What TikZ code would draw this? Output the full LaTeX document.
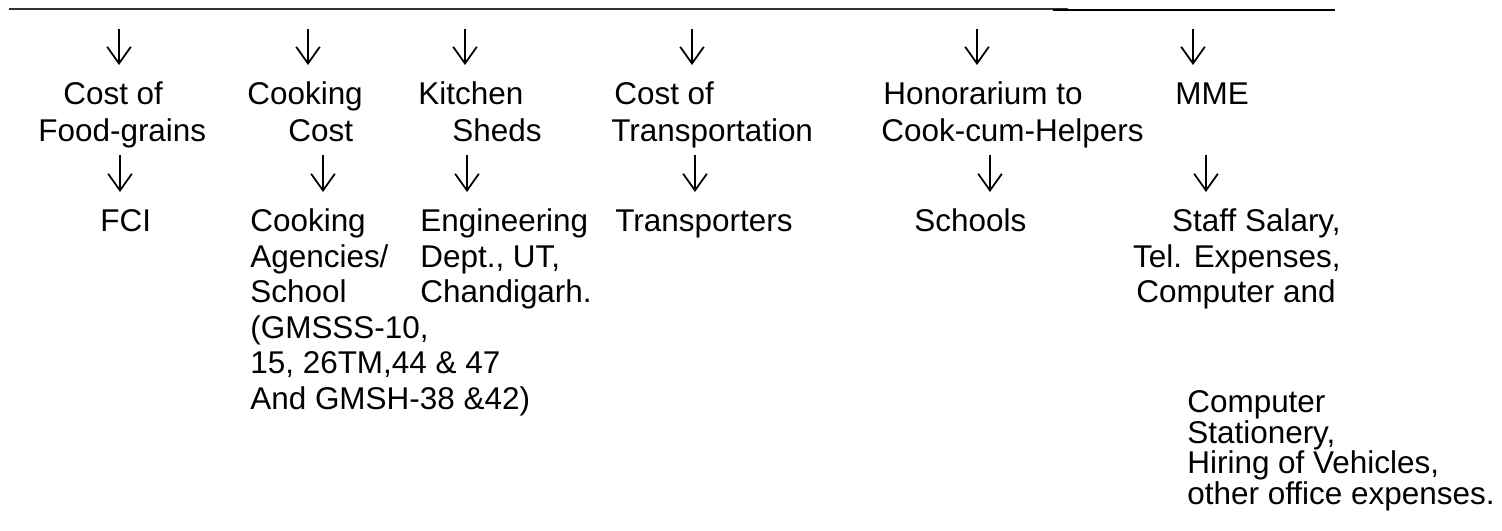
\documentclass[tikz,border=0pt]{standalone}
\usepackage{fontspec}
\setmainfont{Liberation Sans}
\usetikzlibrary{arrows.meta}
\begin{document}
\begin{tikzpicture}[font=\fontsize{17.9}{21}\selectfont,
  lbl/.style={anchor=base west,inner sep=0pt,text height=12.9pt,text depth=3.8pt},
  lblr/.style={lbl,anchor=base east},
  arr/.style={line width=1pt,-{Straight Barb[length=9.5pt,width=13.5pt]},shorten >=.34cm}]
\useasboundingbox (0,0) rectangle (30.04,10.62);
\draw[black!80,line width=1pt] (.18,10.44) -- (21.36,10.44);
\draw[black,line width=1.3pt] (21.06,10.42) -- (26.7,10.42);
\node[lbl] (h1a) at (1.26,8.52) {Cost of};
\node[lbl] (h1b) at (.76,7.78) {Food-grains};
\node[lbl] (h2a) at (4.94,8.52) {Cooking};
\node[lbl] (h2b) at (5.76,7.78) {Cost};
\node[lbl] (h3a) at (8.36,8.52) {Kitchen};
\node[lbl] (h3b) at (9.04,7.78) {Sheds};
\node[lbl] (h4a) at (12.28,8.52) {Cost of};
\node[lbl] (h4b) at (12.22,7.78) {Transportation};
\node[lbl] (h5a) at (17.66,8.52) {Honorarium to};
\node[lbl] (h5b) at (17.62,7.78) {Cook-cum-Helpers};
\node[lbl] (h6a) at (23.5,8.52) {MME};
\node[lbl] (d1a) at (2,5.98) {FCI};
\node[lbl] (d2a) at (5,5.98) {Cooking};
\node[lbl] (d2b) at (5,5.27) {Agencies/};
\node[lbl] (d2c) at (5,4.56) {School};
\node[lbl] (d2d) at (5,3.85) {(GMSSS-10,};
\node[lbl] (d2e) at (5,3.14) {15, 26TM,44 \& 47};
\node[lbl] (d2f) at (5,2.43) {And GMSH-38 \&42)};
\node[lbl] (d3a) at (8.4,5.98) {Engineering};
\node[lbl] (d3b) at (8.4,5.27) {Dept., UT,};
\node[lbl] (d3c) at (8.4,4.56) {Chandigarh.};
\node[lbl] (d4a) at (12.3,5.98) {Transporters};
\node[lbl] (d5a) at (18.28,5.98) {Schools};
\node[lblr] (d6a) at (26.82,5.98) {Staff Salary,};
\node[lblr] (d6b) at (26.82,5.27) {Tel. Expenses,};
\node[lblr] (d6c) at (26.72,4.56) {Computer and};
\node[lbl] (d6d) at (23.74,2.36) {Computer};
\node[lbl] (d6e) at (23.74,1.75) {Stationery,};
\node[lbl] (d6f) at (23.74,1.14) {Hiring of Vehicles,};
\node[lbl] (d6g) at (23.74,.53) {other office expenses.};
\coordinate (a1) at (2.38,10.04);
\coordinate (a2) at (6.16,10.04);
\coordinate (a3) at (9.3,10.04);
\coordinate (a4) at (13.84,10.04);
\coordinate (a5) at (19.54,10.04);
\coordinate (a6) at (23.86,10.04);
\coordinate (b1) at (2.4,7.52);
\coordinate (b2) at (6.46,7.52);
\coordinate (b3) at (9.34,7.52);
\coordinate (b4) at (13.9,7.52);
\coordinate (b5) at (19.8,7.52);
\coordinate (b6) at (24.12,7.52);
\draw[arr] (a1) -- (a1 |- h1a.north);
\draw[arr] (a2) -- (a2 |- h2a.north);
\draw[arr] (a3) -- (a3 |- h3a.north);
\draw[arr] (a4) -- (a4 |- h4a.north);
\draw[arr] (a5) -- (a5 |- h5a.north);
\draw[arr] (a6) -- (a6 |- h6a.north);
\draw[arr] (b1) -- (b1 |- d1a.north);
\draw[arr] (b2) -- (b2 |- d2a.north);
\draw[arr] (b3) -- (b3 |- d3a.north);
\draw[arr] (b4) -- (b4 |- d4a.north);
\draw[arr] (b5) -- (b5 |- d5a.north);
\draw[arr] (b6) -- (b6 |- d6a.north);
\end{tikzpicture}
\end{document}
